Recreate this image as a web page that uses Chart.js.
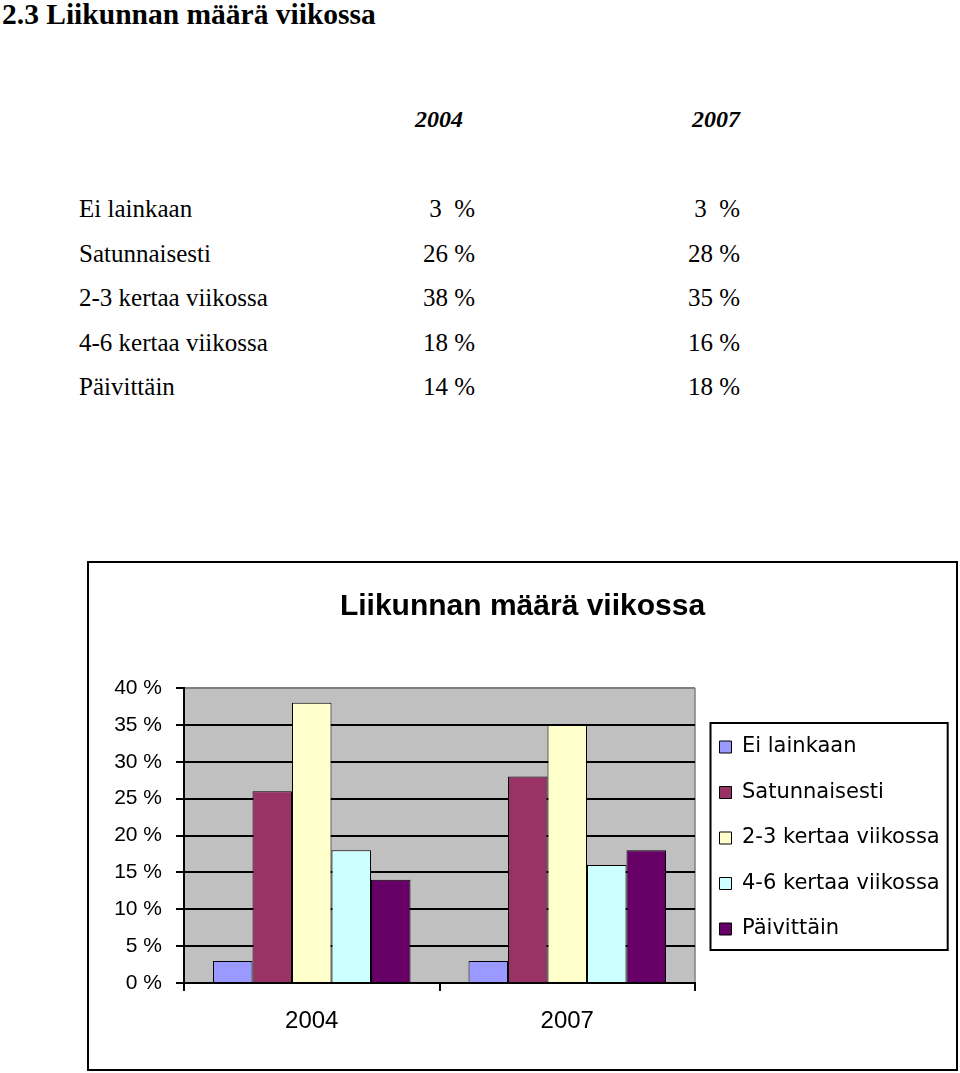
<!DOCTYPE html>
<html lang="fi">
<head>
<meta charset="utf-8">
<title>2.3 Liikunnan määrä viikossa</title>
<script src="https://cdn.jsdelivr.net/npm/chart.js@4"></script>
<style>
  body { margin: 0; background: #fff; width: 960px; height: 1073px; position: relative; overflow: hidden; }
  h1 { position: absolute; left: 2px; top: 0; margin: 0; font: bold 29.5px/29px "Liberation Serif", "Times New Roman", serif; white-space: pre; }
  .t { position: absolute; font-family: "Liberation Serif", "Times New Roman", serif; font-size: 25px; line-height: 24px; white-space: pre; color: #000; }
  .head { font-weight: bold; font-style: italic; font-size: 24px; }
  .num { text-align: right; width: 120px; }
  #box { position: absolute; left: 87px; top: 561px; width: 871px; height: 510px; border: 2px solid #000; box-sizing: border-box; }
</style>
</head>
<body>
<h1>2.3 Liikunnan määrä viikossa</h1>
<div id="table"></div>
<div id="box"><canvas id="chart" width="867" height="506"></canvas></div>
<script>
const years = ["2004", "2007"]
const categories = ["Ei lainkaan", "Satunnaisesti", "2-3 kertaa viikossa", "4-6 kertaa viikossa", "Päivittäin"]
// prosentit vuosittain (2004, 2007)
const eiLainkaan = [3, 3]
const satunnaisesti = [26, 28]
const kerta23 = [38, 35]
const kerta46 = [18, 16]
const paivittain = [14, 18]
const yTicks = [0, 5, 10, 15, 20, 25, 30, 35, 40]
const colors = ["#9999ff", "#993366", "#ffffcc", "#ccffff", "#660066"]

const seriesValues = [eiLainkaan, satunnaisesti, kerta23, kerta46, paivittain]
let myChart

// the text table above the chart
function showTable() {
    const table = document.getElementById("table")
    const colRight = [475, 740]
    const headRight = [463, 740]
    years.forEach((y, j) => {
        const d = document.createElement("div")
        d.className = "t head num"
        d.style.left = (headRight[j] - 120) + "px"
        d.style.top = "107px"
        d.textContent = y
        table.appendChild(d)
    })
    categories.forEach((name, i) => {
        const top = 197 + i * 44.5
        const label = document.createElement("div")
        label.className = "t"
        label.style.left = "79px"
        label.style.top = top + "px"
        label.textContent = name
        table.appendChild(label)
        years.forEach((y, j) => {
            const v = seriesValues[i][j]
            const d = document.createElement("div")
            d.className = "t num"
            d.style.left = (colRight[j] - 120) + "px"
            d.style.top = top + "px"
            d.textContent = v < 10 ? v + "  %" : v + " %"
            table.appendChild(d)
        })
    })
}

const plotBg = {
    id: "plotBg",
    beforeDraw(chart) {
        const { ctx, chartArea: a } = chart
        ctx.save()
        ctx.fillStyle = "#c0c0c0"
        ctx.fillRect(a.left, a.top, a.right - a.left, a.bottom - a.top)
        ctx.strokeStyle = "#808080"
        ctx.lineWidth = 1.5
        ctx.beginPath()
        ctx.moveTo(a.right, a.top)
        ctx.lineTo(a.right, a.bottom)
        ctx.stroke()
        ctx.restore()
    }
}

// the layout caps the legend at a quarter of the width, so fix its width here
const legendWidth = 261
const legendFit = {
    id: "legendFit",
    beforeLayout(chart) {
        const legend = chart.legend
        if (!legend || legend._fixedFit) return
        const fit = legend.fit
        legend.fit = function () {
            fit.call(this)
            this.width = legendWidth
            this.right = this.left + legendWidth
            // nudge the centred items a little lower
            if (this.columnSizes && this.columnSizes.length) this.columnSizes[0].height -= 5
        }
        legend._fixedFit = true
    }
}

const legendBox = {
    id: "legendBox",
    afterDraw(chart) {
        const hb = chart.legend.legendHitBoxes
        if (!hb || !hb.length) return
        const ctx = chart.ctx
        const left = Math.min(...hb.map(h => h.left)) - 9
        const right = Math.max(...hb.map(h => h.left + h.width)) + 8
        const top = hb[0].top + hb[0].height / 2 - 24
        const last = hb[hb.length - 1]
        const bottom = last.top + last.height / 2 + 21
        ctx.save()
        ctx.strokeStyle = "#000"
        ctx.lineWidth = 2
        ctx.strokeRect(left, top, right - left, bottom - top)
        ctx.restore()
    }
}

function showChart() {
    const ctx = document.getElementById("chart").getContext("2d")

    let datasets = []
    categories.forEach((name, i) => {
        datasets.push({
            label: name,
            data: seriesValues[i],
            backgroundColor: colors[i],
            borderColor: "#000",
            borderWidth: 1,
            categoryPercentage: 0.773,
            barPercentage: 1
        })
    })

    myChart = new Chart(ctx, {
        type: "bar",
        data: { labels: years, datasets: datasets },
        plugins: [legendFit, plotBg, legendBox],
        options: {
            responsive: false,
            animation: false,
            plugins: {
                tooltip: { enabled: false },
                title: {
                    display: true,
                    text: "Liikunnan määrä viikossa",
                    color: "#000",
                    font: { family: "'Liberation Sans', Arial, sans-serif", size: 30, weight: "bold" },
                    padding: { top: 26, bottom: 63 }
                },
                legend: {
                    position: "right",
                    fullSize: false,
                    labels: {
                        color: "#000",
                        boxWidth: 12,
                        boxHeight: 12,
                        padding: 24.5,
                        font: { family: "'DejaVu Sans'", size: 21 }
                    }
                }
            },
            scales: {
                x: {
                    afterFit: s => { s.height = 86 },
                    grid: { drawOnChartArea: false, color: "#000", lineWidth: 2, tickLength: 8 },
                    border: { color: "#000", width: 2 },
                    ticks: {
                        color: "#000",
                        padding: 16,
                        font: { family: "'Liberation Sans', Arial, sans-serif", size: 24 }
                    }
                },
                y: {
                    min: yTicks[0],
                    max: yTicks[yTicks.length - 1],
                    afterFit: s => { s.width = 95 },
                    afterBuildTicks: s => { s.ticks = yTicks.map(v => ({ value: v })) },
                    grid: {
                        color: c => c.tick && c.tick.value === 40 ? "#808080" : "#000",
                        tickColor: "#000",
                        lineWidth: 2,
                        tickLength: 8
                    },
                    border: { color: "#000", width: 2 },
                    ticks: {
                        color: "#000",
                        padding: 14,
                        font: { family: "'Liberation Sans', Arial, sans-serif", size: 21 },
                        callback: v => v + " %"
                    }
                }
            }
        }
    })
}

showTable()
showChart()
</script>
</body>
</html>
